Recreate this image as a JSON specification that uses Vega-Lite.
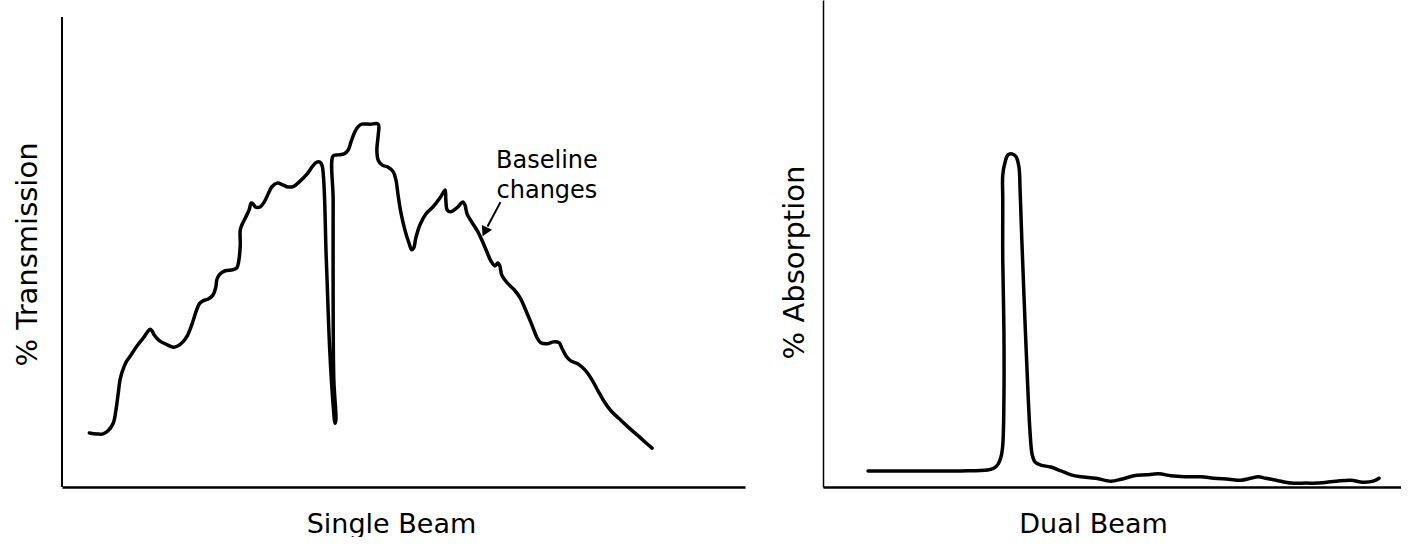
{
  "$schema": "https://vega.github.io/schema/vega-lite/v6.json",
  "background": "white",
  "padding": {"left": 13, "top": 0, "right": 0, "bottom": 0},
  "spacing": 35,
  "config": {
    "view": {"stroke": null},
    "font": "DejaVu Sans",
    "axis": {
      "ticks": false,
      "labels": false,
      "grid": false,
      "domainColor": "black",
      "domainWidth": 2,
      "titleFont": "DejaVu Sans",
      "titleFontWeight": "normal",
      "titleColor": "black",
      "titleFontSize": 27
    }
  },
  "datasets": {
    "single": [
      {"i":1,"x":4.0,"y":11.1},{"i":2,"x":5.1,"y":10.9},{"i":3,"x":6.0,"y":10.9},{"i":4,"x":6.7,"y":11.5},
      {"i":5,"x":7.5,"y":13.1},{"i":6,"x":7.9,"y":15.8},{"i":7,"x":8.2,"y":18.9},{"i":8,"x":8.5,"y":22.0},
      {"i":9,"x":8.8,"y":23.6},{"i":10,"x":9.4,"y":25.7},{"i":11,"x":10.0,"y":26.9},{"i":12,"x":11.0,"y":29.0},
      {"i":13,"x":11.9,"y":30.6},{"i":14,"x":12.6,"y":32.0},{"i":15,"x":12.9,"y":32.4},{"i":16,"x":13.2,"y":32.0},
      {"i":17,"x":13.5,"y":31.2},{"i":18,"x":14.3,"y":30.0},{"i":19,"x":15.4,"y":29.2},{"i":20,"x":16.3,"y":28.7},
      {"i":21,"x":17.0,"y":29.0},{"i":22,"x":17.7,"y":29.8},{"i":23,"x":18.4,"y":31.2},{"i":24,"x":19.0,"y":33.3},
      {"i":25,"x":19.6,"y":35.9},{"i":26,"x":20.1,"y":37.6},{"i":27,"x":20.6,"y":38.2},{"i":28,"x":21.4,"y":38.6},
      {"i":29,"x":22.1,"y":39.4},{"i":30,"x":22.5,"y":40.9},{"i":31,"x":22.7,"y":42.7},{"i":32,"x":23.1,"y":43.7},
      {"i":33,"x":23.9,"y":44.4},{"i":34,"x":25.0,"y":44.6},{"i":35,"x":25.6,"y":45.0},{"i":36,"x":25.9,"y":46.6},
      {"i":37,"x":26.1,"y":49.7},{"i":38,"x":26.1,"y":52.8},{"i":39,"x":26.4,"y":54.0},{"i":40,"x":26.9,"y":55.4},
      {"i":41,"x":27.4,"y":56.9},{"i":42,"x":27.7,"y":58.3},{"i":43,"x":28.0,"y":58.1},{"i":44,"x":28.3,"y":57.5},
      {"i":45,"x":29.0,"y":57.5},{"i":46,"x":29.6,"y":58.5},{"i":47,"x":30.2,"y":60.2},{"i":48,"x":30.7,"y":61.6},
      {"i":49,"x":31.5,"y":62.4},{"i":50,"x":32.4,"y":62.0},{"i":51,"x":33.1,"y":61.6},{"i":52,"x":34.0,"y":61.8},
      {"i":53,"x":34.7,"y":62.6},{"i":54,"x":35.9,"y":64.3},{"i":55,"x":36.7,"y":65.9},{"i":56,"x":37.3,"y":66.7},
      {"i":57,"x":37.8,"y":66.7},{"i":58,"x":38.1,"y":65.9},{"i":59,"x":38.7,"y":46.6},{"i":60,"x":39.2,"y":28.1},
      {"i":61,"x":39.7,"y":16.8},{"i":62,"x":39.97,"y":13.1},{"i":63,"x":40.1,"y":13.8},{"i":64,"x":39.8,"y":22.0},
      {"i":65,"x":39.7,"y":38.4},{"i":66,"x":39.7,"y":58.9},{"i":67,"x":39.7,"y":68.0},{"i":68,"x":40.4,"y":68.2},
      {"i":69,"x":41.3,"y":68.4},{"i":70,"x":41.9,"y":69.2},{"i":71,"x":42.3,"y":70.8},{"i":72,"x":42.8,"y":72.7},
      {"i":73,"x":43.3,"y":73.9},{"i":74,"x":43.9,"y":74.5},{"i":75,"x":45.1,"y":74.5},{"i":76,"x":46.3,"y":74.5},
      {"i":77,"x":46.3,"y":72.3},{"i":78,"x":46.1,"y":69.2},{"i":79,"x":46.3,"y":67.1},{"i":80,"x":46.9,"y":66.1},
      {"i":81,"x":47.7,"y":65.7},{"i":82,"x":48.5,"y":64.7},{"i":83,"x":48.9,"y":63.0},{"i":84,"x":49.2,"y":60.0},
      {"i":85,"x":49.6,"y":56.5},{"i":86,"x":50.2,"y":52.8},{"i":87,"x":50.8,"y":50.1},{"i":88,"x":51.2,"y":48.7},
      {"i":89,"x":51.5,"y":49.1},{"i":90,"x":51.8,"y":51.1},{"i":91,"x":52.4,"y":53.8},{"i":92,"x":53.3,"y":56.1},
      {"i":93,"x":54.3,"y":57.5},{"i":94,"x":55.3,"y":59.3},{"i":95,"x":55.8,"y":60.4},{"i":96,"x":56.1,"y":61.0},
      {"i":97,"x":56.2,"y":58.9},{"i":98,"x":56.4,"y":56.9},{"i":99,"x":56.9,"y":56.5},{"i":100,"x":57.8,"y":57.3},
      {"i":101,"x":58.7,"y":58.5},{"i":102,"x":59.0,"y":57.9},{"i":103,"x":59.3,"y":56.1},{"i":104,"x":60.0,"y":54.4},
      {"i":105,"x":60.9,"y":52.4},{"i":106,"x":61.6,"y":50.3},{"i":107,"x":62.2,"y":48.3},{"i":108,"x":62.8,"y":46.4},
      {"i":109,"x":63.4,"y":45.4},{"i":110,"x":63.8,"y":46.0},{"i":111,"x":64.1,"y":45.4},{"i":112,"x":64.4,"y":43.5},
      {"i":113,"x":65.2,"y":41.9},{"i":114,"x":66.2,"y":40.5},{"i":115,"x":67.1,"y":38.8},{"i":116,"x":67.9,"y":36.3},
      {"i":117,"x":68.8,"y":33.3},{"i":118,"x":69.5,"y":30.8},{"i":119,"x":70.1,"y":29.6},{"i":120,"x":71.0,"y":29.4},
      {"i":121,"x":72.0,"y":29.8},{"i":122,"x":72.8,"y":29.6},{"i":123,"x":73.2,"y":28.5},{"i":124,"x":73.8,"y":26.9},
      {"i":125,"x":74.5,"y":25.9},{"i":126,"x":75.5,"y":25.3},{"i":127,"x":76.6,"y":24.0},{"i":128,"x":77.6,"y":22.0},
      {"i":129,"x":78.5,"y":19.7},{"i":130,"x":79.4,"y":17.5},{"i":131,"x":80.4,"y":15.6},{"i":132,"x":81.6,"y":14.0},
      {"i":133,"x":82.9,"y":12.3},{"i":134,"x":84.2,"y":10.7},{"i":135,"x":85.4,"y":9.2},{"i":136,"x":86.4,"y":8.0}
    ],
    "dual": [
      {"i":1,"x":7.8,"y":3.3},{"i":2,"x":13.5,"y":3.3},{"i":3,"x":18.7,"y":3.3},{"i":4,"x":23.9,"y":3.3},
      {"i":5,"x":28.5,"y":3.5},{"i":6,"x":29.6,"y":3.9},{"i":7,"x":30.3,"y":4.7},{"i":8,"x":30.8,"y":6.2},
      {"i":9,"x":31.1,"y":8.6},{"i":10,"x":31.3,"y":17.9},{"i":11,"x":31.3,"y":32.2},{"i":12,"x":31.1,"y":46.6},
      {"i":13,"x":31.1,"y":58.9},{"i":14,"x":31.1,"y":64.1},{"i":15,"x":31.5,"y":66.7},{"i":16,"x":32.0,"y":68.2},
      {"i":17,"x":32.7,"y":68.4},{"i":18,"x":33.4,"y":67.8},{"i":19,"x":33.9,"y":65.7},{"i":20,"x":34.1,"y":61.0},
      {"i":21,"x":34.4,"y":50.7},{"i":22,"x":34.8,"y":38.4},{"i":23,"x":35.3,"y":24.0},{"i":24,"x":35.8,"y":11.7},
      {"i":25,"x":36.2,"y":6.6},{"i":26,"x":36.7,"y":5.1},{"i":27,"x":37.7,"y":4.5},{"i":28,"x":39.4,"y":4.1},
      {"i":29,"x":41.2,"y":3.3},{"i":30,"x":42.9,"y":2.5},{"i":31,"x":44.6,"y":2.1},{"i":32,"x":47.2,"y":1.8},
      {"i":33,"x":49.8,"y":1.2},{"i":34,"x":51.6,"y":1.6},{"i":35,"x":53.8,"y":2.3},{"i":36,"x":55.9,"y":2.5},
      {"i":37,"x":58.1,"y":2.7},{"i":38,"x":60.2,"y":2.3},{"i":39,"x":62.5,"y":2.1},{"i":40,"x":65.4,"y":2.1},
      {"i":41,"x":67.6,"y":1.8},{"i":42,"x":70.2,"y":1.6},{"i":43,"x":72.3,"y":1.4},{"i":44,"x":74.0,"y":1.8},
      {"i":45,"x":75.3,"y":2.1},{"i":46,"x":76.6,"y":1.8},{"i":47,"x":78.4,"y":1.4},{"i":48,"x":81.0,"y":0.8},
      {"i":49,"x":83.6,"y":0.8},{"i":50,"x":85.6,"y":0.8},{"i":51,"x":88.8,"y":1.2},{"i":52,"x":91.3,"y":1.4},
      {"i":53,"x":93.4,"y":1.0},{"i":54,"x":95.2,"y":1.2},{"i":55,"x":96.2,"y":1.8}
    ],
    "frame": [{"x":0,"y":0,"y2":96.5}],
    "note": [
      {"x":71.0,"y":65.5,"label":"Baseline"},
      {"x":71.0,"y":59.3,"label":"changes"}
    ],
    "pointer": [{"x":64.2,"y":58.5,"x2":62.3,"y2":53.5,"hx":61.9,"hy":52.4}]
  },
  "hconcat": [
    {
      "width": 683,
      "height": 487,
      "layer": [
        {
          "data": {"name": "single"},
          "mark": {"type": "line", "color": "black", "strokeWidth": 3.5, "strokeJoin": "round", "strokeCap": "round", "interpolate": "catmull-rom"},
          "encoding": {
            "x": {"field": "x", "type": "quantitative", "scale": {"domain": [0, 100]},
                  "axis": {"title": "Single Beam", "titlePadding": 24, "titleX": 329, "domainWidth": 2.5}},
            "y": {"field": "y", "type": "quantitative", "scale": {"domain": [0, 100]},
                  "axis": {"title": "% Transmission", "domain": false, "titlePadding": 20, "titleY": 254, "titleFontSize": 29}},
            "order": {"field": "i", "type": "quantitative"}
          }
        },
        {
          "data": {"name": "frame"},
          "mark": {"type": "rule", "color": "black", "strokeWidth": 2},
          "encoding": {
            "x": {"field": "x", "type": "quantitative"},
            "y": {"field": "y", "type": "quantitative"},
            "y2": {"field": "y2"}
          }
        },
        {
          "data": {"name": "note"},
          "mark": {"type": "text", "fontSize": 24, "align": "center", "baseline": "alphabetic", "color": "black"},
          "encoding": {
            "x": {"field": "x", "type": "quantitative"},
            "y": {"field": "y", "type": "quantitative"},
            "text": {"field": "label", "type": "nominal"}
          }
        },
        {
          "data": {"name": "pointer"},
          "mark": {"type": "rule", "color": "black", "strokeWidth": 2},
          "encoding": {
            "x": {"field": "x", "type": "quantitative"},
            "y": {"field": "y", "type": "quantitative"},
            "x2": {"field": "x2"},
            "y2": {"field": "y2"}
          }
        },
        {
          "data": {"name": "pointer"},
          "mark": {"type": "point", "shape": "triangle-down", "filled": true, "color": "black", "opacity": 1, "size": 130, "angle": 26},
          "encoding": {
            "x": {"field": "hx", "type": "quantitative"},
            "y": {"field": "hy", "type": "quantitative"}
          }
        }
      ]
    },
    {
      "width": 578,
      "height": 487,
      "data": {"name": "dual"},
      "mark": {"type": "line", "color": "black", "strokeWidth": 3.5, "strokeJoin": "round", "strokeCap": "round", "interpolate": "catmull-rom"},
      "encoding": {
        "x": {"field": "x", "type": "quantitative", "scale": {"domain": [0, 100]},
              "axis": {"title": "Dual Beam", "titlePadding": 24, "titleX": 270, "domainWidth": 2.5}},
        "y": {"field": "y", "type": "quantitative", "scale": {"domain": [0, 100]},
              "axis": {"title": "% Absorption", "titlePadding": 14, "titleY": 262, "titleFontSize": 29, "domainWidth": 1.5}},
        "order": {"field": "i", "type": "quantitative"}
      }
    }
  ]
}
